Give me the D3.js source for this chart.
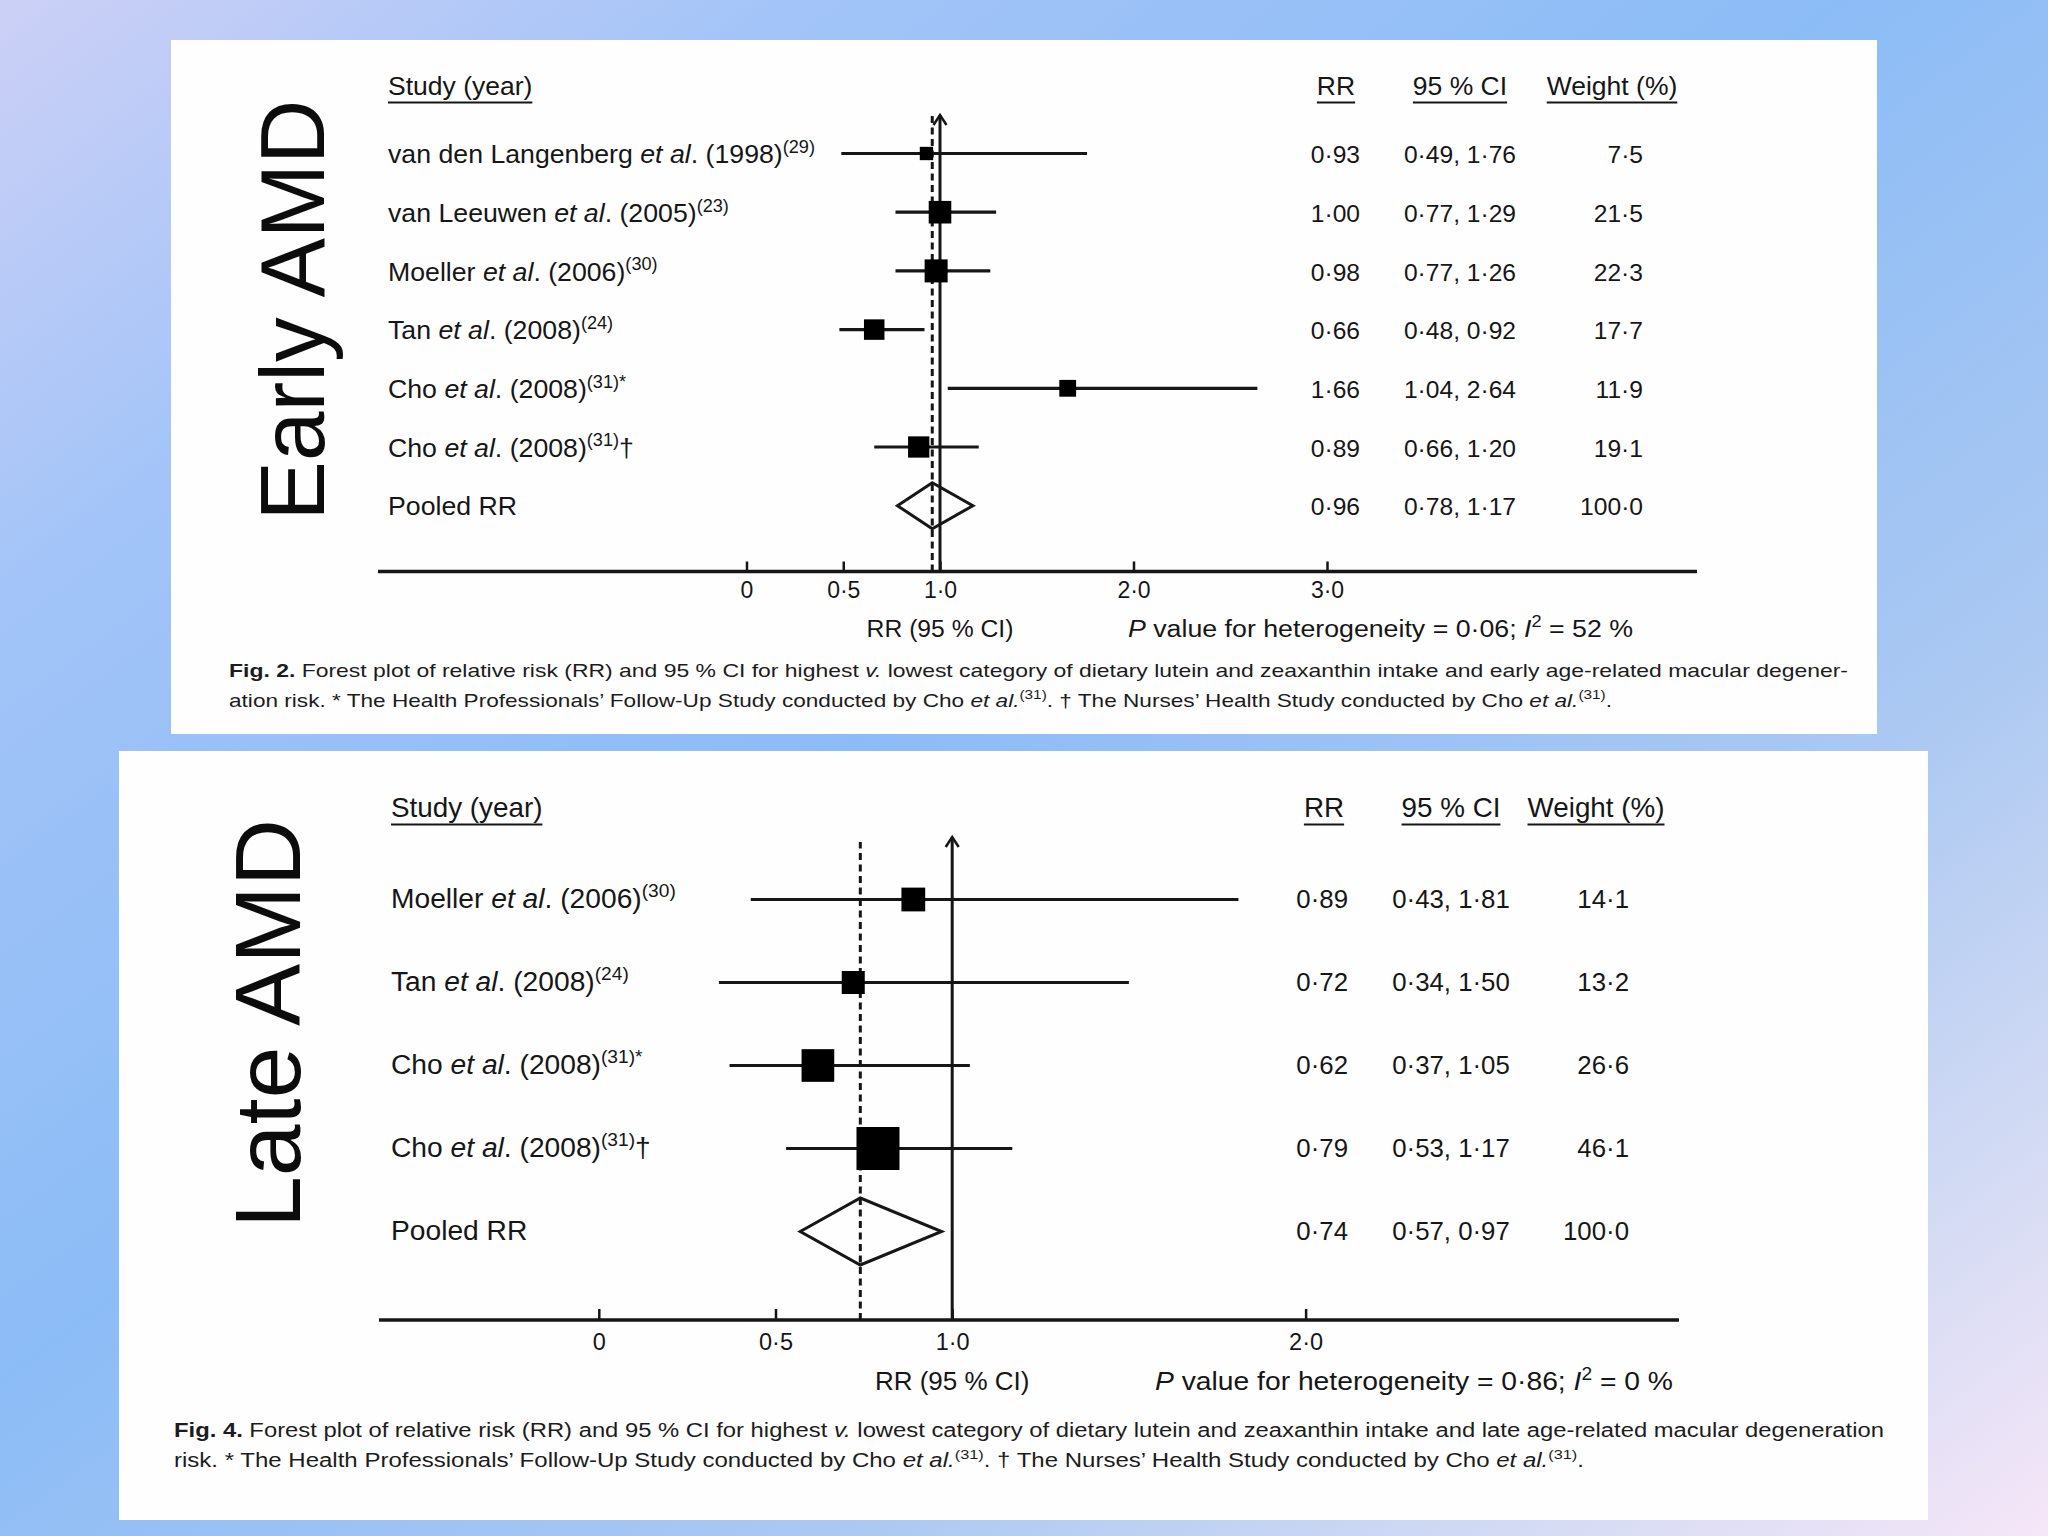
<!DOCTYPE html>
<html>
<head>
<meta charset="utf-8">
<script src="https://cdn.jsdelivr.net/npm/d3@7"></script>
<style>
  html, body { margin: 0; padding: 0; background: #fff; }
  svg { display: block; }
</style>
</head>
<body>
<svg id="chart" width="2048" height="1536"></svg>
<script>
// ---------------- DATA ----------------
// Early AMD (Fig. 2)
const earlyAuthors = ["van den Langenberg", "van Leeuwen", "Moeller", "Tan", "Cho", "Cho"];
const earlyYears   = [1998, 2005, 2006, 2008, 2008, 2008];
const earlyRefs    = [29, 23, 30, 24, 31, 31];
const earlyMarks   = ["", "", "", "", "*", "†"];
const earlyRR      = [0.93, 1.00, 0.98, 0.66, 1.66, 0.89];
const earlyLower   = [0.49, 0.77, 0.77, 0.48, 1.04, 0.66];
const earlyUpper   = [1.76, 1.29, 1.26, 0.92, 2.64, 1.20];
const earlyWeight  = [7.5, 21.5, 22.3, 17.7, 11.9, 19.1];
const earlyPooled  = [0.96, 0.78, 1.17];          // RR, lower, upper
const earlyTicks   = [0, 0.5, 1, 2, 3];
const earlyHet     = ["0·06", "52"];               // P value, I²

// Late AMD (Fig. 4)
const lateAuthors = ["Moeller", "Tan", "Cho", "Cho"];
const lateYears   = [2006, 2008, 2008, 2008];
const lateRefs    = [30, 24, 31, 31];
const lateMarks   = ["", "", "*", "†"];
const lateRR      = [0.89, 0.72, 0.62, 0.79];
const lateLower   = [0.43, 0.34, 0.37, 0.53];
const lateUpper   = [1.81, 1.50, 1.05, 1.17];
const lateWeight  = [14.1, 13.2, 26.6, 46.1];
const latePooled  = [0.74, 0.57, 0.97];
const lateTicks   = [0, 0.5, 1, 2];
const lateHet     = ["0·86", "0"];

// Captions (text)
const earlyCaption = [
  [["Fig. 2.", "b"], [" Forest plot of relative risk (RR) and 95 % CI for highest ", ""], ["v.", "i"],
   [" lowest category of dietary lutein and zeaxanthin intake and early age-related macular degener-", ""]],
  [["ation risk. * The Health Professionals’ Follow-Up Study conducted by Cho ", ""], ["et al.", "i"], ["(31)", "sup"],
   [". † The Nurses’ Health Study conducted by Cho ", ""], ["et al.", "i"], ["(31)", "sup"], [".", ""]]
];
const lateCaption = [
  [["Fig. 4.", "b"], [" Forest plot of relative risk (RR) and 95 % CI for highest ", ""], ["v.", "i"],
   [" lowest category of dietary lutein and zeaxanthin intake and late age-related macular degeneration", ""]],
  [["risk. * The Health Professionals’ Follow-Up Study conducted by Cho ", ""], ["et al.", "i"], ["(31)", "sup"],
   [". † The Nurses’ Health Study conducted by Cho ", ""], ["et al.", "i"], ["(31)", "sup"], [".", ""]]
];

// ---------------- LAYOUT ----------------
const FONT = "'Liberation Sans', Arial, Helvetica, sans-serif";
const INK = "#161616";

const layoutEarly = {
  panel: [171, 40, 1706, 694],
  big: { text: "Early AMD", x: 324, y: 310, size: 90, len: 421 },
  headerY: 95, headerSize: 26.5, studyX: 388,
  rrHeadX: 1336, ciHeadX: 1460, wHeadX: 1612,
  rrX: 1360, ciX: 1460, wX: 1643,
  rowY0: 153.5, rowStep: 58.7, labelSize: 26.7, valSize: 24.6, baseOff: 9.6,
  xRange: [746.5, 1327], axisY: 571.5, axisX: [378, 1697],
  refTop: 115, dashTop: 114, tickLen: 10, tickLabelY: 26.5, tickSize: 23,
  markerMax: 23, diamondH: 46,
  rrLabelY: 637, rrLabelSize: 24.7, hetX: 1128, hetLen: 505,
  capX: 229, capY: [677, 707], capLen: [1619, 1383], capSize: 19
};
const layoutLate = {
  panel: [119, 751, 1809, 769],
  big: { text: "Late AMD", x: 300, y: 1023.5, size: 93, len: 409 },
  headerY: 817, headerSize: 27.8, studyX: 391,
  rrHeadX: 1324, ciHeadX: 1451, wHeadX: 1596,
  rrX: 1348, ciX: 1451, wX: 1629,
  rowY0: 899.5, rowStep: 83, labelSize: 28.2, valSize: 25.8, baseOff: 8.6,
  xRange: [598.8, 1305.6], axisY: 1320, axisX: [379, 1679],
  refTop: 837, dashTop: 842, tickLen: 11, tickLabelY: 30, tickSize: 23.5,
  markerMax: 43, diamondH: 67,
  rrLabelY: 1390, rrLabelSize: 26, hetX: 1155, hetLen: 518,
  capX: 174, capY: [1437, 1467], capLen: [1710, 1410], capSize: 19.5
};

// ---------------- DRAW ----------------
const svg = d3.select("#chart");
const W = 2048, H = 1536;
const defs = svg.append("defs");
const lg = defs.append("linearGradient").attr("id", "bg")
  .attr("x1", 0).attr("y1", 0).attr("x2", 1).attr("y2", 1);
[[0, "#ccd0f6"], [0.2, "#a2c4f8"], [0.45, "#8cbcf6"], [0.7, "#aac8f2"], [0.88, "#d6dcf4"], [1, "#f6e6f8"]]
  .forEach(([o, c]) => lg.append("stop").attr("offset", o).attr("stop-color", c));
svg.append("rect").attr("width", W).attr("height", H).attr("fill", "url(#bg)");

const fmt2 = v => d3.format(".2f")(v).replace(".", "·");
const fmt1 = v => d3.format(".1f")(v).replace(".", "·");
const fmtTick = v => v === 0 ? "0" : d3.format(".1f")(v).replace(".", "·");

function drawPanel(L, D) {
  const g = svg.append("g").attr("font-family", FONT).attr("fill", INK);
  const [px, py, pw, ph] = L.panel;
  g.append("rect").attr("x", px).attr("y", py).attr("width", pw).attr("height", ph).attr("fill", "#fefefe");

  // big rotated label
  g.append("text")
    .attr("transform", `translate(${L.big.x},${L.big.y}) rotate(-90)`)
    .attr("text-anchor", "middle")
    .attr("font-size", L.big.size)
    .attr("textLength", L.big.len).attr("lengthAdjust", "spacingAndGlyphs")
    .attr("fill", "#0c0c0c")
    .text(L.big.text);

  const x = d3.scaleLinear().domain([0, d3.max(D.ticks)]).range(L.xRange);
  const size = d3.scaleSqrt().domain([0, d3.max(D.weight)]).range([0, L.markerMax]);
  const rowY = i => L.rowY0 + i * L.rowStep;
  const n = D.rr.length;

  // headers with underline
  function header(txt, hx, anchor) {
    const t = g.append("text").attr("x", hx).attr("y", L.headerY)
      .attr("text-anchor", anchor).attr("font-size", L.headerSize).text(txt);
    const b = t.node().getBBox();
    g.append("line").attr("x1", b.x).attr("x2", b.x + b.width)
      .attr("y1", L.headerY + 7.5).attr("y2", L.headerY + 7.5)
      .attr("stroke", INK).attr("stroke-width", 2);
  }
  header("Study (year)", L.studyX, "start");
  header("RR", L.rrHeadX, "middle");
  header("95 % CI", L.ciHeadX, "middle");
  header("Weight (%)", L.wHeadX, "middle");

  // axis line + ticks
  g.append("line").attr("x1", L.axisX[0]).attr("x2", L.axisX[1])
    .attr("y1", L.axisY).attr("y2", L.axisY).attr("stroke", INK).attr("stroke-width", 3.5);
  const ax = g.append("g").attr("transform", `translate(0,${L.axisY})`)
    .call(d3.axisBottom(x).tickValues(D.ticks).tickFormat(fmtTick).tickSize(-L.tickLen).tickSizeOuter(0));
  ax.select(".domain").remove();
  ax.attr("font-family", FONT).attr("font-size", L.tickSize);
  ax.selectAll(".tick line").attr("stroke", INK).attr("stroke-width", 2.5);
  ax.selectAll(".tick text").attr("y", L.tickLabelY).attr("dy", 0).attr("fill", INK);

  // reference line at RR = 1 with arrow
  const x1 = x(1);
  g.append("line").attr("x1", x1).attr("x2", x1).attr("y1", L.axisY).attr("y2", L.refTop)
    .attr("stroke", INK).attr("stroke-width", 3);
  g.append("path").attr("d", `M${x1 - 6.5},${L.refTop + 10}L${x1},${L.refTop}L${x1 + 6.5},${L.refTop + 10}`)
    .attr("fill", "none").attr("stroke", INK).attr("stroke-width", 2.5);

  // dashed pooled line
  const xp = x(D.pooled[0]);
  g.append("line").attr("x1", xp).attr("x2", xp).attr("y1", L.axisY).attr("y2", L.dashTop)
    .attr("stroke", INK).attr("stroke-width", 3).attr("stroke-dasharray", "7,4.5");

  // study rows
  for (let i = 0; i < n; i++) {
    const y = rowY(i);
    g.append("line").attr("x1", x(D.lower[i])).attr("x2", x(D.upper[i]))
      .attr("y1", y).attr("y2", y).attr("stroke", INK).attr("stroke-width", 3.2);
    const s = size(D.weight[i]);
    g.append("rect").attr("x", x(D.rr[i]) - s / 2).attr("y", y - s / 2)
      .attr("width", s).attr("height", s).attr("fill", "#000");

    const by = y + L.baseOff;
    const raise = L.labelSize * 0.38;
    const t = g.append("text").attr("x", L.studyX).attr("y", by).attr("font-size", L.labelSize);
    t.append("tspan").text(D.authors[i] + " ");
    t.append("tspan").attr("font-style", "italic").text("et al");
    t.append("tspan").text(`. (${D.years[i]})`);
    t.append("tspan").attr("font-size", L.labelSize * 0.68).attr("dy", -raise)
      .text(`(${D.refs[i]})` + (D.marks[i] === "*" ? "*" : ""));
    if (D.marks[i] === "†") t.append("tspan").attr("dy", raise).text("†");

    g.append("text").attr("x", L.rrX).attr("y", by).attr("text-anchor", "end")
      .attr("font-size", L.valSize).text(fmt2(D.rr[i]));
    g.append("text").attr("x", L.ciX).attr("y", by).attr("text-anchor", "middle")
      .attr("font-size", L.valSize).text(`${fmt2(D.lower[i])}, ${fmt2(D.upper[i])}`);
    g.append("text").attr("x", L.wX).attr("y", by).attr("text-anchor", "end")
      .attr("font-size", L.valSize).text(fmt1(D.weight[i]));
  }

  // pooled row
  const yp = rowY(n);
  const hd = L.diamondH / 2;
  g.append("path")
    .attr("d", `M${x(D.pooled[1])},${yp}L${x(D.pooled[0])},${yp - hd}L${x(D.pooled[2])},${yp}L${x(D.pooled[0])},${yp + hd}Z`)
    .attr("fill", "none").attr("stroke", INK).attr("stroke-width", 3).attr("stroke-linejoin", "miter");
  const byp = yp + L.baseOff;
  g.append("text").attr("x", L.studyX).attr("y", byp).attr("font-size", L.labelSize).text("Pooled RR");
  g.append("text").attr("x", L.rrX).attr("y", byp).attr("text-anchor", "end")
    .attr("font-size", L.valSize).text(fmt2(D.pooled[0]));
  g.append("text").attr("x", L.ciX).attr("y", byp).attr("text-anchor", "middle")
    .attr("font-size", L.valSize).text(`${fmt2(D.pooled[1])}, ${fmt2(D.pooled[2])}`);
  g.append("text").attr("x", L.wX).attr("y", byp).attr("text-anchor", "end")
    .attr("font-size", L.valSize).text(fmt1(d3.sum(D.weight)));

  // axis title + heterogeneity
  g.append("text").attr("x", x1).attr("y", L.rrLabelY).attr("text-anchor", "middle")
    .attr("font-size", L.rrLabelSize).text("RR (95 % CI)");
  const het = g.append("text").attr("x", L.hetX).attr("y", L.rrLabelY)
    .attr("font-size", L.rrLabelSize)
    .attr("textLength", L.hetLen).attr("lengthAdjust", "spacingAndGlyphs");
  const hr = L.rrLabelSize * 0.4;
  het.append("tspan").attr("font-style", "italic").text("P");
  het.append("tspan").text(` value for heterogeneity = ${D.het[0]}; `);
  het.append("tspan").attr("font-style", "italic").text("I");
  het.append("tspan").attr("font-size", L.rrLabelSize * 0.68).attr("dy", -hr).text("2");
  het.append("tspan").attr("dy", hr).text(` = ${D.het[1]} %`);

  // caption
  D.caption.forEach((segs, li) => {
    const ct = g.append("text").attr("x", L.capX).attr("y", L.capY[li])
      .attr("font-size", L.capSize).attr("fill", "#1c1c1c")
      .attr("textLength", L.capLen[li]).attr("lengthAdjust", "spacingAndGlyphs");
    const cr = L.capSize * 0.4;
    let raised = false;
    segs.forEach(([txt, st]) => {
      const sp = ct.append("tspan").text(txt);
      if (st === "b") sp.attr("font-weight", "bold");
      if (st === "i") sp.attr("font-style", "italic");
      if (st === "sup") {
        sp.attr("font-size", L.capSize * 0.68).attr("dy", -cr);
        raised = true;
      } else if (raised) {
        sp.attr("dy", cr);
        raised = false;
      }
    });
  });
}

drawPanel(layoutEarly, {
  authors: earlyAuthors, years: earlyYears, refs: earlyRefs, marks: earlyMarks,
  rr: earlyRR, lower: earlyLower, upper: earlyUpper, weight: earlyWeight,
  pooled: earlyPooled, ticks: earlyTicks, het: earlyHet, caption: earlyCaption
});
drawPanel(layoutLate, {
  authors: lateAuthors, years: lateYears, refs: lateRefs, marks: lateMarks,
  rr: lateRR, lower: lateLower, upper: lateUpper, weight: lateWeight,
  pooled: latePooled, ticks: lateTicks, het: lateHet, caption: lateCaption
});
</script>
</body>
</html>
